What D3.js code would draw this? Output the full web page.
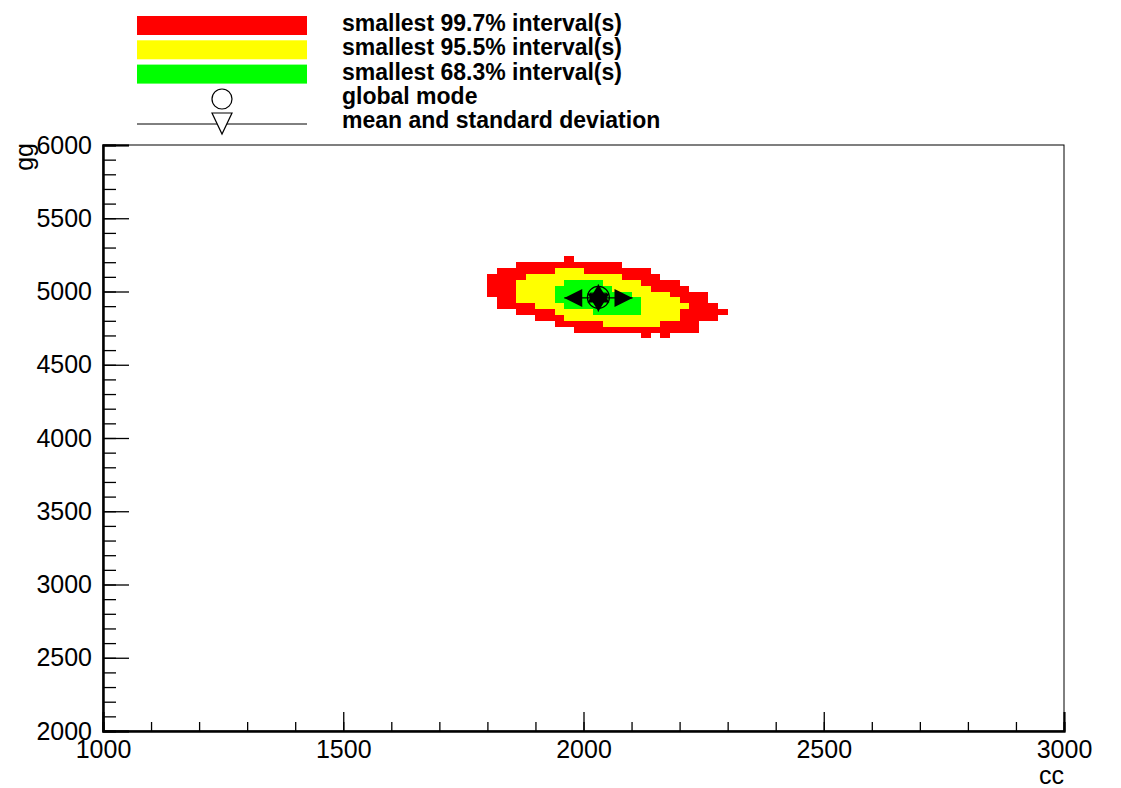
<!DOCTYPE html>
<html>
<head>
<meta charset="utf-8">
<script src="https://cdn.jsdelivr.net/npm/d3@7"></script>
<style>
  body { margin: 0; background: #fff; }
  svg { display: block; font-family: "Liberation Sans", Arial, Helvetica, sans-serif; }
</style>
</head>
<body>
<div id="main-container"></div>
<script>
const WIDTH = 1121
const HEIGHT = 788
const FRAME = { left: 103, right: 1064, top: 145, bottom: 731 }

// bins of the 2D histogram (lower edges), 100x100 bins over the ranges
const BIN_W = 20
const BIN_H = 40
const COL_X = [1800, 1820, 1840, 1860, 1880, 1900, 1920, 1940, 1960, 1980, 2000, 2020, 2040,
  2060, 2080, 2100, 2120, 2140, 2160, 2180, 2200, 2220, 2240, 2260, 2280]
const ROW_Y = [5200, 5160, 5120, 5080, 5040, 5000, 4960, 4920, 4880, 4840, 4800, 4760, 4720, 4680]
// R = 99.7%, Y = 95.5%, G = 68.3%  (one string per row, one char per column)
const LEVEL_ROWS = [
  '........R................',
  '...RRRRRRRRRRR...........',
  '.RRRRRRYYYRRRRRRR........',
  'RRRRYYYYYYYYYYRRRR.......',
  'RRRYYYYYGGGGYYYYRRRR.....',
  'RRRYYYYGGGGGGYYYYRRRR....',
  'RRRYYYYGGGGGGGGYYYYRRRR..',
  '.RRYYYYGGGGGGGGGYYYYRRR..',
  '.RRRRYYYGGGGGGGGYYYYYRRR.',
  '...RRRRYYYYGGGGGYYYYRRRRR',
  '.....RRRYYYYYYYYYYYYRRRR.',
  '.......RRRRRYYYYYYRRRR...',
  '.........RRRRRRRRRRRRR...',
  '................R.R......'
]
const LEVEL_COLOR = { R: '#ff0000', Y: '#ffff00', G: '#00ff00' }

const MEAN = [2031, 4956]
const STD = [71, 92]
const MODE = [2031, 4960]

const X_MAJOR = [1000, 1500, 2000, 2500, 3000]
const Y_MAJOR = [2000, 2500, 3000, 3500, 4000, 4500, 5000, 5500, 6000]
const X_MINOR = d3.range(1000, 3001, 100)
const Y_MINOR = d3.range(2000, 6001, 100)

const LEGEND_LABELS = ['smallest 99.7% interval(s)', 'smallest 95.5% interval(s)',
  'smallest 68.3% interval(s)', 'global mode', 'mean and standard deviation']

const X_SCALE = d3.scaleLinear().domain([1000, 3000]).range([FRAME.left, FRAME.right])
const Y_SCALE = d3.scaleLinear().domain([2000, 6000]).range([FRAME.bottom, FRAME.top])

const SVG = d3.select('#main-container')
  .append('svg')
  .attr('width', WIDTH)
  .attr('height', HEIGHT)

// histogram cells
const CELLS = []
LEVEL_ROWS.forEach((row, i) => {
  row.split('').forEach((c, j) => {
    if (c !== '.') CELLS.push({ x: COL_X[j], y: ROW_Y[i], level: c })
  })
})

SVG.append('g')
  .selectAll('rect')
  .data(CELLS)
  .enter()
  .append('rect')
  .attr('x', d => X_SCALE(d.x))
  .attr('y', d => Y_SCALE(d.y + BIN_H))
  .attr('width', d => X_SCALE(d.x + BIN_W) - X_SCALE(d.x))
  .attr('height', d => Y_SCALE(d.y) - Y_SCALE(d.y + BIN_H))
  .attr('fill', d => LEVEL_COLOR[d.level])
  .attr('shape-rendering', 'crispEdges')

// frame
SVG.append('rect')
  .attr('x', FRAME.left)
  .attr('y', FRAME.top)
  .attr('width', FRAME.right - FRAME.left)
  .attr('height', FRAME.bottom - FRAME.top)
  .attr('fill', 'none')
  .attr('stroke', '#000')
  .attr('stroke-width', 1)

// axes (ticks pointing inward)
const xMinor = SVG.append('g')
  .attr('transform', `translate(0, ${FRAME.bottom})`)
  .call(d3.axisBottom(X_SCALE).tickValues(X_MINOR).tickSize(-9).tickFormat(''))
const xMajor = SVG.append('g')
  .attr('transform', `translate(0, ${FRAME.bottom})`)
  .call(d3.axisBottom(X_SCALE).tickValues(X_MAJOR).tickSize(-19).tickPadding(9).tickFormat(d3.format('d')))
const yMinor = SVG.append('g')
  .attr('transform', `translate(${FRAME.left}, 0)`)
  .call(d3.axisLeft(Y_SCALE).tickValues(Y_MINOR).tickSize(-13).tickFormat(''))
const yMajor = SVG.append('g')
  .attr('transform', `translate(${FRAME.left}, 0)`)
  .call(d3.axisLeft(Y_SCALE).tickValues(Y_MAJOR).tickSize(-26).tickPadding(11).tickFormat(d3.format('d')))

;[xMinor, xMajor, yMinor, yMajor].forEach(g => {
  g.select('.domain').attr('stroke-width', 2)
  g.selectAll('.tick line').attr('stroke-width', 1.3)
  g.selectAll('text')
    .attr('font-family', '"Liberation Sans", Arial, Helvetica, sans-serif')
    .attr('font-size', 25)
    .attr('fill', '#000')
})

// axis titles
SVG.append('text')
  .attr('x', FRAME.right)
  .attr('y', 784)
  .attr('text-anchor', 'end')
  .style('font-size', '25px')
  .text('cc')

SVG.append('text')
  .attr('transform', 'translate(33, 143) rotate(-90)')
  .attr('text-anchor', 'end')
  .style('font-size', '25px')
  .text('gg')

// mean and standard deviation (arrows), global mode
const MARK = SVG.append('g')
const mx = X_SCALE(MEAN[0])
const my = Y_SCALE(MEAN[1])
const xl = X_SCALE(MEAN[0] - STD[0])
const xr = X_SCALE(MEAN[0] + STD[0])
const yt = Y_SCALE(MEAN[1] + STD[1])
const yb = Y_SCALE(MEAN[1] - STD[1])
const AH = 18 // arrow head length
const AW = 9  // half width

MARK.append('line').attr('x1', xl).attr('x2', xr).attr('y1', my).attr('y2', my)
  .attr('stroke', '#000').attr('stroke-width', 1.2)
MARK.append('line').attr('x1', mx).attr('x2', mx).attr('y1', yt).attr('y2', yb)
  .attr('stroke', '#000').attr('stroke-width', 1.2)

const heads = [
  [[xl, my], [xl + AH, my - AW], [xl + AH, my + AW]],
  [[xr, my], [xr - AH, my - AW], [xr - AH, my + AW]],
  [[mx, yt], [mx - AW - 2, yt + AH], [mx + AW + 2, yt + AH]],
  [[mx, yb], [mx - AW - 2, yb - AH], [mx + AW + 2, yb - AH]]
]
MARK.selectAll('path.head')
  .data(heads)
  .enter()
  .append('path')
  .attr('class', 'head')
  .attr('d', d => 'M' + d.join('L') + 'Z')
  .attr('fill', '#000')

MARK.append('circle')
  .attr('cx', X_SCALE(MODE[0]))
  .attr('cy', Y_SCALE(MODE[1]))
  .attr('r', 11)
  .attr('fill', 'none')
  .attr('stroke', '#000')
  .attr('stroke-width', 1.2)

MARK.append('path')
  .attr('d', d3.symbol(d3.symbolTriangle, 120)())
  .attr('transform', `translate(${mx}, ${my}) rotate(180)`)
  .attr('fill', 'none')
  .attr('stroke', '#000')

// legend
const LEGEND = SVG.append('g')
const LEG_X0 = 137
const LEG_X1 = 307
const LEG_ROW = 24.3
const LEG_TOP = 16

LEGEND.selectAll('rect')
  .data(['R', 'Y', 'G'])
  .enter()
  .append('rect')
  .attr('x', LEG_X0)
  .attr('y', (_, i) => LEG_TOP + i * LEG_ROW)
  .attr('width', LEG_X1 - LEG_X0)
  .attr('height', 19)
  .attr('fill', d => LEVEL_COLOR[d])

LEGEND.selectAll('text')
  .data(LEGEND_LABELS)
  .enter()
  .append('text')
  .attr('x', 342)
  .attr('y', (_, i) => 31 + i * LEG_ROW)
  .style('font-size', '23px')
  .style('font-weight', 'bold')
  .text(d => d)

const legMid = (LEG_X0 + LEG_X1) / 2
LEGEND.append('circle')
  .attr('cx', legMid)
  .attr('cy', 99)
  .attr('r', 10)
  .attr('fill', 'none')
  .attr('stroke', '#000')
  .attr('stroke-width', 1.2)

LEGEND.append('line')
  .attr('x1', LEG_X0).attr('x2', LEG_X1)
  .attr('y1', 124).attr('y2', 124)
  .attr('stroke', '#000')
  .attr('stroke-width', 1)

LEGEND.append('path')
  .attr('d', `M${legMid - 10},113L${legMid + 10},113L${legMid},134Z`)
  .attr('fill', '#fff')
  .attr('stroke', '#000')
  .attr('stroke-width', 1.2)
</script>
</body>
</html>
